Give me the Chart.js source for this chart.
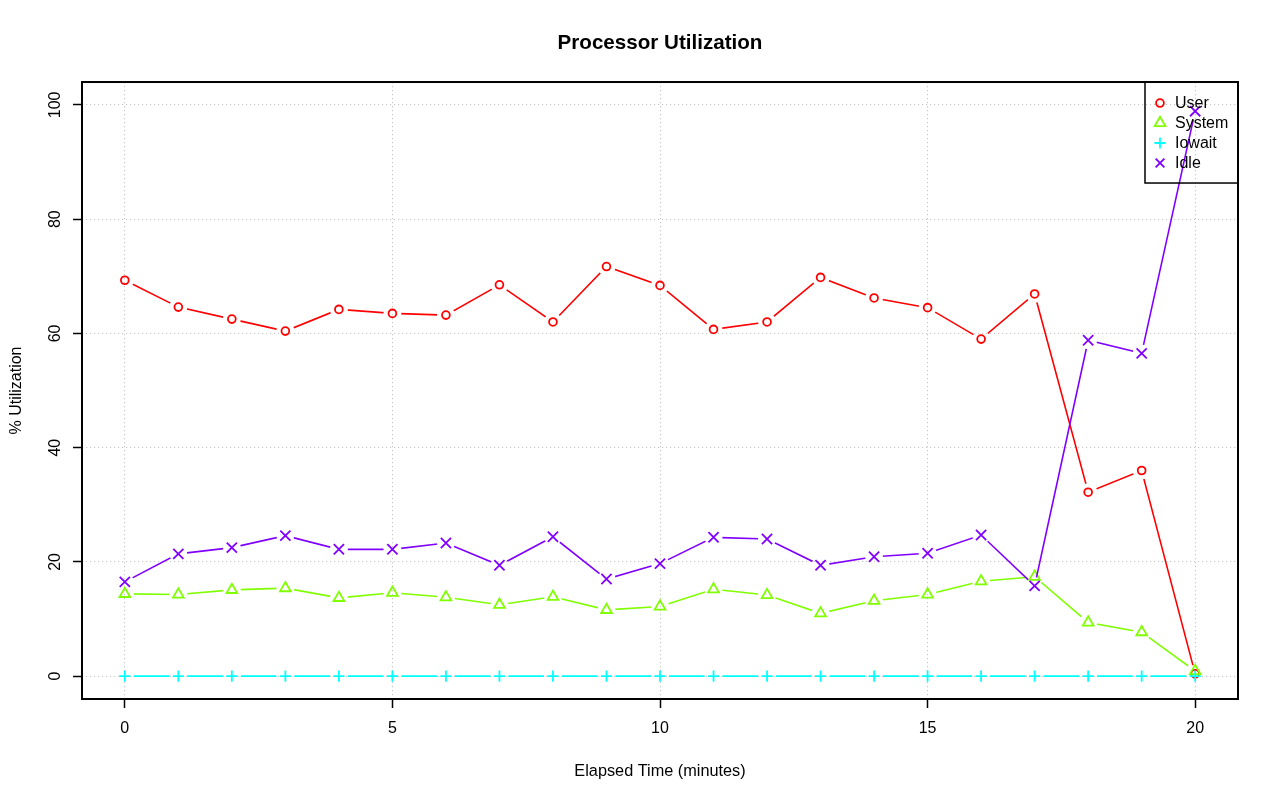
<!DOCTYPE html>
<html>
<head>
<meta charset="utf-8">
<script src="https://cdn.jsdelivr.net/npm/chart.js@4/dist/chart.umd.min.js"></script>
<style>
  html, body { margin: 0; padding: 0; background: #ffffff; }
  #wrap { width: 1280px; height: 801px; position: relative; }
  canvas { display: block; }
</style>
</head>
<body>
<div id="wrap"><canvas id="c" width="1280" height="801"></canvas></div>
<script>
// ---- data ----
const minutes   = [0, 1, 2, 3, 4, 5, 6, 7, 8, 9, 10, 11, 12, 13, 14, 15, 16, 17, 18, 19, 20];
const userPct   = [69.3, 64.6, 62.5, 60.4, 64.2, 63.5, 63.2, 68.5, 62.0, 71.7, 68.4, 60.7, 62.0, 69.8, 66.2, 64.5, 59.0, 66.9, 32.2, 36.0, 0.4];
const systemPct = [14.4, 14.3, 15.1, 15.4, 13.7, 14.6, 13.8, 12.5, 13.9, 11.6, 12.2, 15.2, 14.2, 11.0, 13.2, 14.3, 16.6, 17.4, 9.4, 7.7, 0.9];
const iowaitPct = [0, 0, 0, 0, 0, 0, 0, 0, 0, 0, 0, 0, 0, 0, 0, 0, 0, 0, 0, 0, 0];
const idlePct   = [16.5, 21.4, 22.5, 24.6, 22.2, 22.2, 23.3, 19.4, 24.4, 17.0, 19.7, 24.3, 24.0, 19.4, 20.9, 21.5, 24.7, 15.8, 58.8, 56.5, 98.9];
const xTickValues = [0, 5, 10, 15, 20];
const yTickValues = [0, 20, 40, 60, 80, 100];
const seriesNames = ['User', 'System', 'Iowait', 'Idle'];
const chartTitle = 'Processor Utilization';
const xTitle = 'Elapsed Time (minutes)';
const yTitle = '% Utilization';

// ---- styling ----
const FONT = "'Liberation Sans', Arial, Helvetica, sans-serif";
const colors = ['#FF0000', '#80FF00', '#00FFFF', '#8000FF'];
const styles = ['circle', 'triangle', 'cross', 'crossRot'];
const radii = [3.9, 6.2, 5.6, 7.2];
const GAP = 9; // R type="b": line stops short of each marker

Chart.defaults.font.family = FONT;
Chart.defaults.font.size = 16;
Chart.defaults.color = '#000000';

const seriesValues = [userPct, systemPct, iowaitPct, idlePct];
const datasets = [];
seriesNames.forEach((name, i) => {
  const pts = minutes.map((m, j) => ({ x: m, y: seriesValues[i][j] }));
  // connecting line (with gaps around the markers)
  datasets.push({
    label: name,
    data: pts,
    gapLine: true,
    borderColor: colors[i],
    backgroundColor: colors[i],
    borderWidth: 1.6,
    pointRadius: 0,
    pointHoverRadius: 0,
    tension: 0,
    fill: false,
    order: (3 - i) * 2 + 1
  });
  // markers
  datasets.push({
    label: name,
    data: pts,
    legendEntry: true,
    showLine: false,
    borderColor: colors[i],
    backgroundColor: colors[i],
    pointStyle: styles[i],
    pointRadius: radii[i],
    pointBorderWidth: 1.8,
    pointBorderColor: colors[i],
    pointBackgroundColor: 'rgba(0,0,0,0)',
    fill: false,
    order: (3 - i) * 2
  });
});

function drawMarker(ctx, style, x, y, r) {
  ctx.beginPath();
  if (style === 'circle') {
    ctx.arc(x, y, r, 0, Math.PI * 2);
  } else if (style === 'triangle') {
    let a = 0;
    ctx.moveTo(x + Math.sin(a) * r, y - Math.cos(a) * r);
    a += Math.PI * 2 / 3;
    ctx.lineTo(x + Math.sin(a) * r, y - Math.cos(a) * r);
    a += Math.PI * 2 / 3;
    ctx.lineTo(x + Math.sin(a) * r, y - Math.cos(a) * r);
    ctx.closePath();
  } else if (style === 'cross') {
    ctx.moveTo(x, y - r); ctx.lineTo(x, y + r);
    ctx.moveTo(x - r, y); ctx.lineTo(x + r, y);
  } else if (style === 'crossRot') {
    const d = r * Math.SQRT1_2;
    ctx.moveTo(x - d, y - d); ctx.lineTo(x + d, y + d);
    ctx.moveTo(x - d, y + d); ctx.lineTo(x + d, y - d);
  }
  ctx.stroke();
}

const lineGaps = {
  id: 'lineGaps',
  beforeDatasetDraw(chart, args) {
    const ds = chart.data.datasets[args.index];
    if (!ds.gapLine) return;
    const ctx = chart.ctx;
    ctx.save();
    ctx.beginPath();
    ctx.rect(0, 0, chart.width, chart.height);
    args.meta.data.forEach(p => {
      ctx.moveTo(p.x + GAP, p.y);
      ctx.arc(p.x, p.y, GAP, 0, Math.PI * 2);
    });
    ctx.clip('evenodd');
  },
  afterDatasetDraw(chart, args) {
    const ds = chart.data.datasets[args.index];
    if (!ds.gapLine) return;
    chart.ctx.restore();
  }
};

const boxAndLegend = {
  id: 'boxAndLegend',
  afterDraw(chart) {
    const ctx = chart.ctx;
    const a = chart.chartArea;
    ctx.save();
    ctx.strokeStyle = '#000000';
    ctx.lineWidth = 2;
    ctx.setLineDash([]);
    ctx.strokeRect(a.left, a.top, a.right - a.left, a.bottom - a.top);
    // legend (transparent background, black border) in the top-right corner
    const lw = 93, lh = 101;
    const lx = a.right - lw, ly = a.top;
    ctx.lineWidth = 1.5;
    ctx.strokeRect(lx, ly, lw, lh);
    ctx.font = '16px ' + FONT;
    ctx.textBaseline = 'middle';
    ctx.textAlign = 'left';
    chart.data.datasets.filter(d => d.legendEntry).forEach((ds, i) => {
      const y = ly + 21 + i * 20;
      ctx.strokeStyle = ds.borderColor;
      ctx.lineWidth = 1.8;
      drawMarker(ctx, ds.pointStyle, lx + 15, y, Math.min(ds.pointRadius, 6.2));
      ctx.fillStyle = '#000000';
      ctx.fillText(ds.label, lx + 30, y + 1);
    });
    ctx.restore();
  }
};

new Chart(document.getElementById('c'), {
  type: 'line',
  data: { datasets },
  options: {
    responsive: false,
    devicePixelRatio: 1,
    animation: false,
    layout: { padding: { top: 0, left: 0, right: 42, bottom: 0 } },
    plugins: {
      legend: { display: false },
      tooltip: { enabled: false },
      title: {
        display: true,
        text: chartTitle,
        fullSize: false,
        color: '#000000',
        font: { size: 20.6, weight: 'bold', family: FONT },
        padding: { top: 30.5, bottom: 26.8 }
      }
    },
    scales: {
      x: {
        type: 'linear',
        min: -0.8,
        max: 20.8,
        afterBuildTicks: (s) => { s.ticks = xTickValues.map(v => ({ value: v })); },
        afterFit: (s) => { s.height = 102; },
        ticks: { padding: 11, autoSkip: false, maxRotation: 0, color: '#000000', font: { size: 16 } },
        grid: {
          color: '#C4C4C4', lineWidth: 1, drawOnChartArea: true, drawTicks: true,
          tickLength: 9, tickColor: '#000000', tickWidth: 1.5, tickBorderDash: []
        },
        border: { display: false, dash: [1.2, 2.8] },
        title: { display: true, text: xTitle, color: '#000000', font: { size: 16.3 }, padding: { top: 0, bottom: 20 } }
      },
      y: {
        type: 'linear',
        min: -4,
        max: 104,
        afterBuildTicks: (s) => { s.ticks = yTickValues.map(v => ({ value: v })); },
        afterFit: (s) => { s.width = 82; },
        ticks: { padding: 4, minRotation: 90, maxRotation: 90, crossAlign: 'center', color: '#000000', font: { size: 16 } },
        grid: {
          color: '#C4C4C4', lineWidth: 1, drawOnChartArea: true, drawTicks: true,
          tickLength: 9, tickColor: '#000000', tickWidth: 1.5, tickBorderDash: []
        },
        border: { display: false, dash: [1.2, 2.8] },
        title: { display: true, text: yTitle, color: '#000000', font: { size: 16 }, padding: { top: 6.5, bottom: 0 } }
      }
    }
  },
  plugins: [lineGaps, boxAndLegend]
});
</script>
</body>
</html>
